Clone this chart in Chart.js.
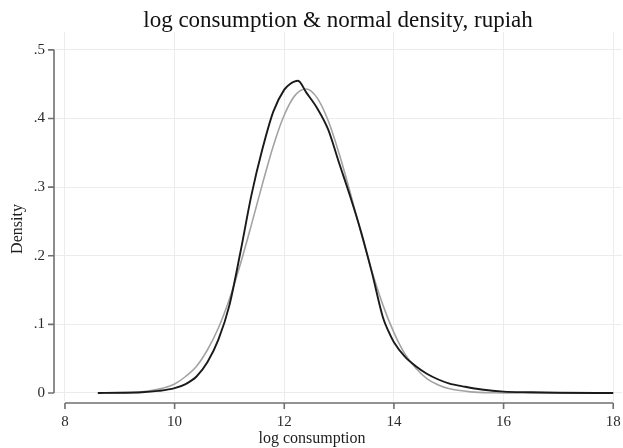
<!DOCTYPE html>
<html>
<head>
<meta charset="utf-8">
<script src="https://cdn.jsdelivr.net/npm/chart.js@4.4.1/dist/chart.umd.min.js"></script>
<style>
  html, body { margin: 0; padding: 0; background: #ffffff; }
  canvas { display: block; }
</style>
</head>
<body>
<canvas id="densityChart" width="623" height="448"></canvas>
<script>
// kernel density of log consumption (black)
const kernelX = [8.6, 9.0, 9.4, 9.7, 10.0, 10.2, 10.4, 10.6, 10.8, 11.0, 11.2, 11.4, 11.6, 11.8, 12.0, 12.1, 12.25, 12.4, 12.6, 12.8, 13.0, 13.2, 13.4, 13.6, 13.8, 13.9, 14.0, 14.2, 14.4, 14.6, 14.8, 15.0, 15.3, 15.6, 16.0, 16.5, 17.0, 18.0];
const kernelY = [0, 0.0003, 0.001, 0.003, 0.007, 0.013, 0.024, 0.045, 0.078, 0.128, 0.205, 0.288, 0.355, 0.410, 0.442, 0.450, 0.455, 0.438, 0.415, 0.384, 0.335, 0.287, 0.235, 0.175, 0.110, 0.090, 0.074, 0.053, 0.039, 0.028, 0.020, 0.014, 0.009, 0.005, 0.002, 0.001, 0.0003, 0];

// normal density (gray)
const normalX = [8.6, 9.0, 9.4, 9.8, 10.0, 10.2, 10.4, 10.6, 10.8, 11.0, 11.2, 11.4, 11.6, 11.8, 12.0, 12.2, 12.4, 12.6, 12.8, 13.0, 13.2, 13.4, 13.6, 13.8, 14.0, 14.2, 14.4, 14.6, 14.8, 15.0, 15.4, 15.8, 16.4, 18.0];
const normalY = [0.0001, 0.0004, 0.0018, 0.0073, 0.013, 0.024, 0.039, 0.063, 0.095, 0.137, 0.188, 0.245, 0.304, 0.360, 0.405, 0.434, 0.443, 0.430, 0.397, 0.349, 0.293, 0.233, 0.177, 0.128, 0.088, 0.057, 0.036, 0.021, 0.012, 0.0064, 0.0016, 0.0003, 0, 0];

const xTicks = [8, 10, 12, 14, 16, 18];
const yTicks = [0, 0.1, 0.2, 0.3, 0.4, 0.5];
const yTickLabels = ["0", ".1", ".2", ".3", ".4", ".5"];

const serif = "'Liberation Serif', 'Times New Roman', serif";
const axisColor = "#707070";

// Stata style axes: lines only over the tick range, set off from the plot region
const stataAxes = {
  id: "stataAxes",
  afterDraw(chart) {
    const c = chart.ctx;
    const xs = chart.scales.x;
    const ys = chart.scales.y;
    const area = chart.chartArea;

    c.save();
    c.strokeStyle = axisColor;
    c.lineWidth = 1.6;

    // y axis
    const ax = area.left;
    c.beginPath();
    c.moveTo(ax, ys.getPixelForValue(yTicks[yTicks.length - 1]));
    c.lineTo(ax, ys.getPixelForValue(yTicks[0]));
    yTicks.forEach((v) => {
      const p = ys.getPixelForValue(v);
      c.moveTo(ax, p);
      c.lineTo(ax - 6, p);
    });
    c.stroke();

    // x axis
    const ay = area.bottom + 2;
    c.beginPath();
    c.moveTo(xs.getPixelForValue(xTicks[0]), ay);
    c.lineTo(xs.getPixelForValue(xTicks[xTicks.length - 1]), ay);
    xTicks.forEach((v) => {
      const p = xs.getPixelForValue(v);
      c.moveTo(p, ay);
      c.lineTo(p, ay + 6);
    });
    c.stroke();

    // axis titles
    c.fillStyle = "#1e1e1e";
    c.font = "16px " + serif;
    c.textAlign = "center";
    c.textBaseline = "middle";
    c.fillText("log consumption", 312, 439);

    c.translate(18, 229);
    c.rotate(-Math.PI / 2);
    c.fillText("Density", 0, 0);
    c.restore();
  },
};

function initializeDensityChart() {
  const ctx = document.getElementById("densityChart");
  if (!ctx) return;

  const kernel = kernelX.map((x, i) => ({ x: x, y: kernelY[i] }));
  const normal = normalX.map((x, i) => ({ x: x, y: normalY[i] }));

  new Chart(ctx, {
    type: "scatter",
    data: {
      datasets: [
        {
          label: "kernel density",
          data: kernel,
          showLine: true,
          borderColor: "#1a1a1a",
          borderWidth: 1.9,
          pointRadius: 0,
          cubicInterpolationMode: "monotone",
        },
        {
          label: "normal density",
          data: normal,
          showLine: true,
          borderColor: "#a3a3a3",
          borderWidth: 1.6,
          pointRadius: 0,
          cubicInterpolationMode: "monotone",
        },
      ],
    },
    options: {
      responsive: false,
      animation: false,
      devicePixelRatio: 1,
      layout: {
        padding: { left: 0, right: 1, top: 0, bottom: 0 },
      },
      plugins: {
        legend: { display: false },
        tooltip: { enabled: false },
        title: {
          display: true,
          text: "log consumption & normal density, rupiah",
          fullSize: false,
          color: "#111111",
          font: { family: serif, size: 23, weight: "normal", lineHeight: 1 },
          padding: { top: 9, bottom: 0 },
        },
      },
      scales: {
        x: {
          type: "linear",
          min: 7.8,
          max: 18.16,
          afterBuildTicks: (scale) => {
            scale.ticks = xTicks.map((v) => ({ value: v }));
          },
          afterFit: (scale) => {
            scale.height = 47;
            scale.paddingLeft = 0;
            scale.paddingRight = 0;
          },
          border: { display: false },
          grid: {
            color: "#ececec",
            lineWidth: 1,
            drawTicks: false,
          },
          ticks: {
            padding: 12,
            color: "#2a2a2a",
            maxRotation: 0,
            autoSkip: false,
            font: { family: serif, size: 15 },
          },
        },
        y: {
          min: -0.0117,
          max: 0.526,
          afterBuildTicks: (scale) => {
            scale.ticks = yTicks.map((v) => ({ value: v }));
          },
          afterFit: (scale) => {
            scale.width = 54;
            scale.paddingTop = 0;
            scale.paddingBottom = 0;
          },
          border: { display: false },
          grid: {
            color: "#ececec",
            lineWidth: 1,
            drawTicks: false,
          },
          ticks: {
            padding: 9,
            color: "#2a2a2a",
            autoSkip: false,
            font: { family: serif, size: 15 },
            callback: function (value, index) {
              return yTickLabels[index];
            },
          },
        },
      },
    },
    plugins: [stataAxes],
  });
}

document.addEventListener("DOMContentLoaded", function () {
  initializeDensityChart();
});
</script>
</body>
</html>
